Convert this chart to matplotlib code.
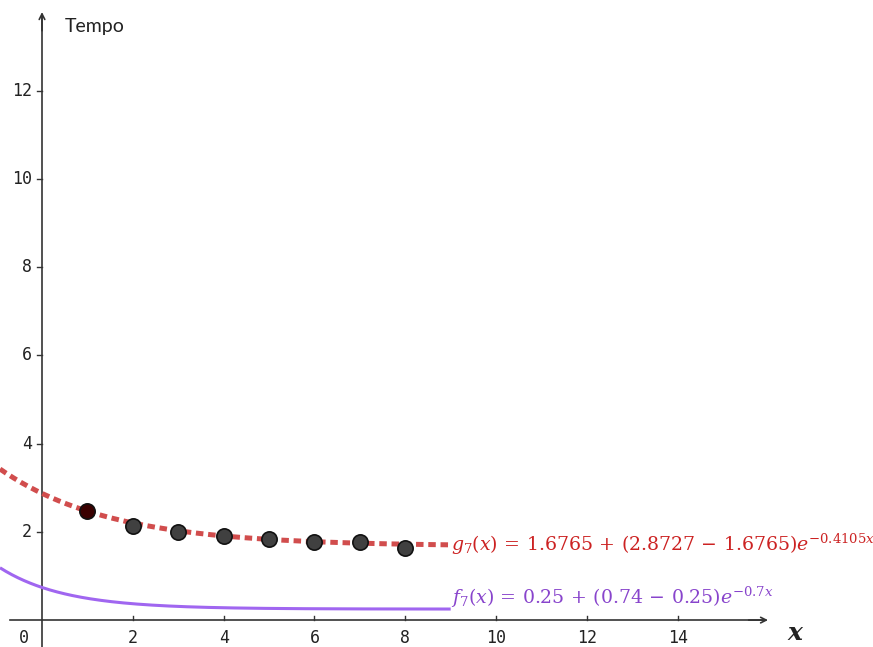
import numpy as np
import matplotlib.pyplot as plt

plt.rcParams['mathtext.fontset'] = 'dejavuserif'

# data points (tempo)
pts_x = [1, 2, 3, 4, 5, 6, 7, 8]
pts_y = [2.48, 2.14, 2.00, 1.91, 1.84, 1.78, 1.76, 1.64]

# fitted models
g_a, g_b, g_k = 1.6765, 2.8727, 0.4105
f_a, f_b, f_k = 0.25, 0.74, 0.7

xticks = [2, 4, 6, 8, 10, 12, 14]
yticks = [2, 4, 6, 8, 10, 12]

xmin, xmax = -0.925, 18.3
ymin, ymax = -0.61, 14.06

fig = plt.figure(figsize=(8.73, 6.47), dpi=100)
ax = fig.add_axes([0, 0, 1, 1])
ax.set_xlim(xmin, xmax)
ax.set_ylim(ymin, ymax)
ax.axis('off')

# axes with arrows
ax.plot([-0.7, 15.9], [0, 0], color='#333333', lw=1.2)
ax.plot([0, 0], [ymin, 13.7], color='#333333', lw=1.2)
ax.annotate('', xy=(16.05, 0), xytext=(15.5, 0),
            arrowprops=dict(arrowstyle='->', color='#333333', lw=1.2))
ax.annotate('', xy=(0, 13.85), xytext=(0, 13.3),
            arrowprops=dict(arrowstyle='->', color='#333333', lw=1.2))

for t in xticks:
    ax.plot([t, t], [0, 0.1], color='#333333', lw=1)
    ax.text(t, -0.2, str(t), ha='center', va='top', fontsize=12,
            family='DejaVu Sans Mono', color='#222222')
for t in yticks:
    ax.plot([-0.1, 0], [t, t], color='#333333', lw=1)
    ax.text(-0.22, t, str(t), ha='right', va='center', fontsize=12,
            family='DejaVu Sans Mono', color='#222222')
ax.text(-0.3, -0.2, '0', ha='right', va='top', fontsize=12,
        family='DejaVu Sans Mono', color='#222222')

ax.text(0.5, 13.45, 'Tempo', ha='left', va='center', fontsize=14,
        family='Lato', color='#222222')
ax.text(16.6, -0.3, r'$\boldsymbol{x}$', ha='center', va='center',
        fontsize=18, color='#222222')

# curves
xs = np.linspace(xmin, 9, 300)
g = g_a + (g_b - g_a) * np.exp(-g_k * xs)
f = f_a + (f_b - f_a) * np.exp(-f_k * xs)
ax.plot(xs, f, color='#a066f0', lw=2.2, solid_capstyle='butt')
ax.plot(xs, g, color='#d14d4d', lw=3.6, dashes=(1.5, 0.95))

# points
ax.plot(pts_x[:1], pts_y[:1], 'o', ms=11, mfc='#3a0000', mec='#111111', mew=1.2)
ax.plot(pts_x[1:], pts_y[1:], 'o', ms=11, mfc='#404040', mec='#111111', mew=1.2)

ax.text(9.0, 1.72, r'$g_7(x)\,=\,1.6765\,+\,(2.8727\,-\,1.6765)e^{-0.4105x}$',
        ha='left', va='center', fontsize=13.6, color='#cc2222')
ax.text(9.0, 0.52, r'$f_7(x)\,=\,0.25\,+\,(0.74\,-\,0.25)e^{-0.7x}$',
        ha='left', va='center', fontsize=13.6, color='#8844cc')

fig.savefig('out.png', dpi=100)
